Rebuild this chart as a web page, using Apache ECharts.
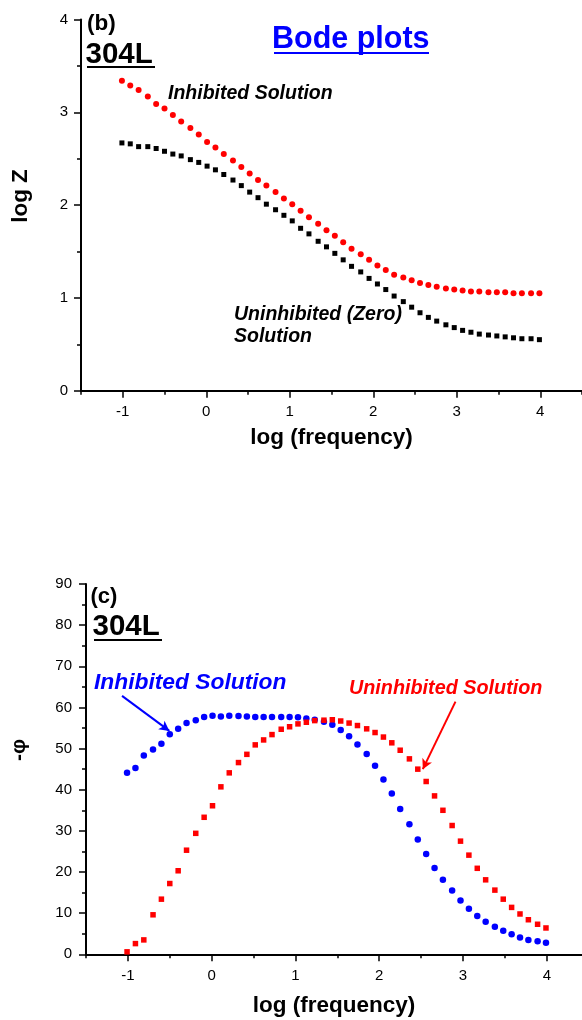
<!DOCTYPE html>
<html>
<head>
<meta charset="utf-8">
<script src="https://cdn.jsdelivr.net/npm/echarts@6/dist/echarts.min.js"></script>
<style>
html,body{margin:0;padding:0;background:#fff;}
#c{width:582px;height:1020px;}
</style>
</head>
<body>
<div id="c"></div>
<script>
// log(frequency) of each measured point
const logFreq = [-1.01,-0.91,-0.81,-0.70,-0.60,-0.50,-0.40,-0.30,-0.19,-0.09,
  0.01,0.11,0.21,0.32,0.42,0.52,0.62,0.72,0.83,0.93,
  1.03,1.13,1.23,1.34,1.44,1.54,1.64,1.74,1.85,1.95,
  2.05,2.15,2.25,2.36,2.46,2.56,2.66,2.76,2.87,2.97,
  3.07,3.17,3.27,3.38,3.48,3.58,3.68,3.78,3.89,3.99];

// (b) log Z
const logZInhibited = [3.34,3.29,3.24,3.17,3.09,3.04,2.97,2.90,2.83,2.76,
  2.68,2.62,2.55,2.48,2.41,2.34,2.27,2.21,2.14,2.07,
  2.01,1.94,1.87,1.80,1.73,1.67,1.60,1.53,1.47,1.41,
  1.35,1.30,1.25,1.22,1.19,1.16,1.14,1.12,1.10,1.09,
  1.08,1.07,1.07,1.06,1.06,1.06,1.05,1.05,1.05,1.05];
const logZUninhibited = [2.67,2.66,2.63,2.63,2.61,2.58,2.55,2.53,2.49,2.46,
  2.42,2.38,2.33,2.27,2.21,2.14,2.08,2.01,1.95,1.89,
  1.83,1.75,1.69,1.61,1.55,1.48,1.41,1.34,1.28,1.21,
  1.15,1.09,1.02,0.96,0.90,0.84,0.79,0.75,0.71,0.68,
  0.65,0.63,0.61,0.60,0.59,0.58,0.57,0.56,0.56,0.55];

// (c) -phi
const phiInhibited = [44.1,45.3,48.3,49.8,51.2,53.5,54.8,56.2,56.9,57.7,
  58.0,57.8,58.0,57.9,57.8,57.7,57.7,57.7,57.7,57.7,
  57.6,57.3,57.0,56.5,55.8,54.5,53.0,51.0,48.7,45.8,
  42.5,39.1,35.3,31.6,27.9,24.4,21.0,18.1,15.5,13.1,
  11.1,9.3,7.9,6.7,5.7,4.9,4.1,3.5,3.2,2.8];
const phiUninhibited = [0.6,2.6,3.5,9.6,13.4,17.2,20.3,25.3,29.4,33.3,
  36.1,40.7,44.1,46.6,48.6,50.9,52.1,53.4,54.7,55.3,
  56.0,56.4,56.8,56.9,57.0,56.7,56.2,55.6,54.8,53.9,
  52.8,51.4,49.6,47.5,45.0,42.0,38.5,35.0,31.3,27.5,
  24.1,20.9,18.1,15.6,13.4,11.4,9.8,8.4,7.3,6.4];

// tick labels
const xMajorTicks = [-1,0,1,2,3,4];
const xMinorTicks = [-1.5,-1,-0.5,0,0.5,1,1.5,2,2.5,3,3.5,4];
const xMinorTicksTop = [-1.5,-1,-0.5,0,0.5,1,1.5,2,2.5,3,3.5,4,4.5];

const FF = "'Liberation Sans', Arial, sans-serif";
const pairs = (ys) => logFreq.map((x, i) => [x, ys[i]]);

const chart = echarts.init(document.getElementById('c'), null, {renderer: 'canvas'});

function xAxesFor(grid, min, max, minorVals, name, nameGap) {
  return [
    {
      type: 'value', gridIndex: grid, position: 'bottom', min: min, max: max,
      axisLine: {show: true, onZero: false, lineStyle: {color: '#000', width: 2}},
      axisTick: {show: true, customValues: minorVals, length: 4, lineStyle: {color: '#000', width: 1.5}},
      axisLabel: {show: true, customValues: xMajorTicks, margin: 14, color: '#000', fontSize: 15, fontFamily: FF},
      splitLine: {show: false},
      name: name, nameLocation: 'middle', nameGap: nameGap,
      nameTextStyle: {color: '#000', fontSize: 22.5, fontWeight: 'bold', fontFamily: FF}
    },
    {
      type: 'value', gridIndex: grid, position: 'bottom', min: min, max: max,
      axisLine: {show: false, onZero: false},
      axisTick: {show: true, customValues: xMajorTicks, length: 7, lineStyle: {color: '#000', width: 1.5}},
      axisLabel: {show: false},
      splitLine: {show: false}
    }
  ];
}

function yAxisFor(grid, max, interval, fontSize, margin) {
  return {
    type: 'value', gridIndex: grid, position: 'left', min: 0, max: max, interval: interval,
    axisLine: {show: true, onZero: false, lineStyle: {color: '#000', width: 2}},
    axisTick: {show: true, length: 7, lineStyle: {color: '#000', width: 1.5}},
    minorTick: {show: true, splitNumber: 2, length: 4, lineStyle: {color: '#000', width: 1.5}},
    axisLabel: {margin: margin, color: '#000', fontSize: fontSize, fontFamily: FF},
    splitLine: {show: false}, minorSplitLine: {show: false}
  };
}

const xa = xAxesFor(0, -1.5, 4.5, xMinorTicksTop, 'log (frequency)', 35.5)
  .concat(xAxesFor(1, -1.5, 4.42, xMinorTicks, 'log (frequency)', 40));

function txt(text, x, y, font, fill, extra) {
  return Object.assign({
    type: 'text', x: x, y: y, silent: true, z: 100,
    style: {text: text, x: 0, y: 0, font: font, fill: fill, align: 'left', verticalAlign: 'middle'}
  }, extra || {});
}
function vtxt(text, x, y, font, fill) {
  return {type: 'text', x: x, y: y, silent: true, z: 100, rotation: Math.PI / 2,
    style: {text: text, x: 0, y: 0, font: font, fill: fill, align: 'center', verticalAlign: 'middle'}};
}
function ln(x1, y1, x2, y2, color, w) {
  return {type: 'line', silent: true, z: 100, shape: {x1: x1, y1: y1, x2: x2, y2: y2},
    style: {stroke: color, lineWidth: w}};
}

const option = {
  animation: false,
  backgroundColor: '#fff',
  grid: [
    {left: 81, right: 0, top: 19.5, bottom: 629.3},
    {left: 86, right: 0, top: 584, bottom: 65.7}
  ],
  xAxis: xa,
  yAxis: [yAxisFor(0, 4, 1, 15, 13), yAxisFor(1, 90, 10, 15, 14)],
  series: [
    {type: 'scatter', xAxisIndex: 0, yAxisIndex: 0, data: pairs(logZUninhibited),
      symbol: 'rect', symbolSize: 5, itemStyle: {color: '#000', opacity: 1}},
    {type: 'scatter', xAxisIndex: 0, yAxisIndex: 0, data: pairs(logZInhibited),
      symbol: 'circle', symbolSize: 6, itemStyle: {color: '#ff0000', opacity: 1}},
    {type: 'scatter', xAxisIndex: 2, yAxisIndex: 1, data: pairs(phiInhibited),
      symbol: 'circle', symbolSize: 6.5, itemStyle: {color: '#0000ff', opacity: 1},
      markLine: {silent: true, animation: false, symbol: ['none', 'arrow'], symbolSize: [8, 10],
        label: {show: false}, lineStyle: {color: '#0000ff', width: 2, type: 'solid', opacity: 1},
        data: [[{coord: [-1.07, 62.8]}, {coord: [-0.505, 54.3]}]]}},
    {type: 'scatter', xAxisIndex: 2, yAxisIndex: 1, data: pairs(phiUninhibited),
      symbol: 'rect', symbolSize: 5.5, itemStyle: {color: '#ff0000', opacity: 1},
      markLine: {silent: true, animation: false, symbol: ['none', 'arrow'], symbolSize: [8, 10],
        label: {show: false}, lineStyle: {color: '#ff0000', width: 2, type: 'solid', opacity: 1},
        data: [[{coord: [2.91, 61.4]}, {coord: [2.52, 45.0]}]]}}
  ],
  graphic: [
    // top panel
    txt('(b)', 87, 24, "bold 22.5px " + FF, '#000'),
    txt('304L', 85.5, 54.5, "bold 29.5px " + FF, '#000'),
    ln(87, 67, 155, 67, '#000', 2),
    txt('Bode plots', 272, 39.6, "bold 30.5px " + FF, '#0000ff'),
    ln(274, 53, 429, 53, '#0000ff', 2),
    txt('Inhibited Solution', 168, 93.4, "italic bold 19.5px " + FF, '#000'),
    txt('Uninhibited (Zero)', 234, 314.4, "italic bold 19.5px " + FF, '#000'),
    txt('Solution', 234, 336.9, "italic bold 19.5px " + FF, '#000'),
    vtxt('log Z', 21, 196, "bold 22.5px " + FF, '#000'),
    // bottom panel
    txt('(c)', 90.5, 597, "bold 22px " + FF, '#000'),
    txt('304L', 92.5, 627, "bold 29.5px " + FF, '#000'),
    ln(94, 640, 162, 640, '#000', 2),
    txt('Inhibited Solution', 94, 683, "italic bold 22.8px " + FF, '#0000ff'),
    txt('Uninhibited Solution', 349, 688.7, "italic bold 19.8px " + FF, '#ff0000'),
    vtxt('-φ', 19, 750, "bold 21px " + FF, '#000')
  ]
};
chart.setOption(option);
</script>
</body>
</html>
